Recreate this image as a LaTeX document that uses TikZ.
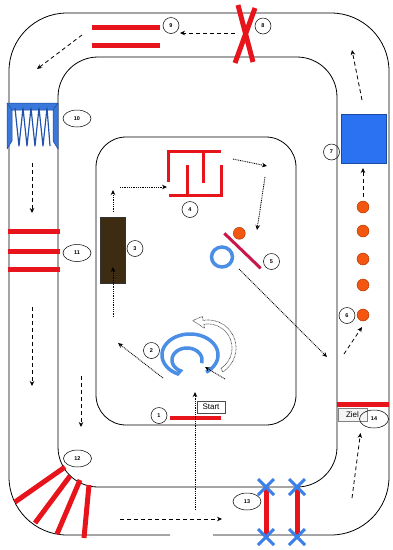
\documentclass[tikz,border=0pt]{standalone}
\usepackage{fontspec}
\setmainfont{Liberation Sans}
\usetikzlibrary{arrows.meta,shapes.geometric}
\definecolor{barred}{HTML}{E8141C}
\definecolor{crimsonbar}{HTML}{C8174A}
\definecolor{xblue}{HTML}{3B80E8}
\definecolor{spiralblue}{HTML}{4A8EE6}
\definecolor{sqblue}{HTML}{2A72F2}
\definecolor{sqedge}{HTML}{1A4AA0}
\definecolor{dotorange}{HTML}{F2560F}
\definecolor{dotedge}{HTML}{A83000}
\definecolor{brownbox}{HTML}{3D2B12}
\definecolor{frameblue}{HTML}{3A78DC}
\begin{document}
\begin{tikzpicture}[x=1pt,y=-1pt,
  track/.style={draw=black, line width=0.8pt},
  redbar/.style={draw=barred, line width=5pt},
  mazeline/.style={draw=barred, line width=3pt},
  xcross/.style={draw=xblue, line width=3pt},
  num/.style={circle, draw, line width=0.5pt, minimum size=16pt, inner sep=0pt, font=\fontsize{5.5}{6}\selectfont\bfseries},
  numell/.style={ellipse, draw, line width=0.5pt, minimum width=28pt, minimum height=17pt, inner sep=0pt, font=\fontsize{5.5}{6}\selectfont\bfseries},
  dasharrow/.style={draw, line width=0.8pt, dash pattern=on 4pt off 3pt, -{Stealth[length=5pt,width=4.5pt]}},
  dotarrow/.style={draw, line width=0.9pt, dash pattern=on 0.9pt off 0.9pt, -{Stealth[length=5pt,width=4.5pt]}},
  orangedot/.style={circle, fill=dotorange, draw=dotedge, line width=0.4pt, minimum size=12pt, inner sep=0pt},
  labelbox/.style={draw=black!70, line width=0.5pt, minimum width=28pt, minimum height=12.5pt, inner sep=0pt, font=\fontsize{8}{9}\selectfont}
]
\useasboundingbox (0,0) rectangle (392,550);

% track boundaries
\draw[track, rounded corners=58] (213,535) -- (389,535) -- (389,13) -- (9,13) -- (9,535) -- (170,535);
\draw[track, rounded corners=40] (58,57) rectangle (337,487);
\draw[track, rounded corners=30] (96,137) rectangle (296,425);

% 9: two red bars
\draw[redbar] (92,27.5) -- (160,27.5);
\draw[redbar] (92,45) -- (160,45);
\node[num] (n9) at (171,25.5) {9};

% 8: red X
\draw[redbar] (238,5) -- (253,62);
\draw[redbar] (255,8) -- (235,63);
\node[num] (n8) at (263,26) {8};

% 7: blue square
\node[draw=sqedge, fill=sqblue, line width=1pt, minimum width=45pt, minimum height=49pt, inner sep=0pt] (sq7) at (363.5,138.5) {};
\node[num] (n7) at (331.5,152) {7};

% 6: orange dots
\node[orangedot] (o1) at (363,207) {};
\node[orangedot] (o2) at (363,231) {};
\node[orangedot] (o3) at (363,259) {};
\node[orangedot] (o4) at (363,285) {};
\node[orangedot] (o5) at (363,315) {};
\node[num] (n6) at (347,315.5) {6};

% 5: ring, crimson bar, orange dot
\draw[spiralblue, line width=3.5pt] (222,257) ellipse [x radius=10.5, y radius=10];
\draw[crimsonbar, line width=3pt] (224.3,233.3) -- (260.7,268.3);
\node[orangedot] (o6) at (239.3,233.3) {};
\node[num] (n5) at (271.5,261.5) {5};

% 4: maze
\draw[mazeline] (168,182) -- (168,151) -- (221,151);
\draw[mazeline] (203,151) -- (203,183);
\draw[mazeline] (187,165) -- (187,195);
\draw[mazeline] (169,195) -- (221,195) -- (221,165);
\node[num] (n4) at (190,209.5) {4};

% 3: brown box
\node[draw=black!80, fill=brownbox, line width=0.6pt, minimum width=25pt, minimum height=66pt, inner sep=0pt] (box3) at (112.5,250) {};
\node[num] (n3) at (135,248.5) {3};

% 2: spiral and curved hollow arrow
\draw[spiralblue, line width=3.5pt] plot[domain=55:-244, samples=90] ({190+28*cos(\x)},{355+21*sin(\x)}) -- plot[domain=116:375, samples=60] ({187+15*cos(\x)},{360+12*sin(\x)});
\draw[black!75, line width=0.7pt, dash pattern=on 0.7pt off 0.7pt]
  plot[domain=58:-100, samples=40] ({208+28*cos(\x)},{348+28*sin(\x)})
  -- ({208+32*cos(-100)},{348+32*sin(-100)}) -- (192.7,320.5)
  -- ({208+20*cos(-100)},{348+20*sin(-100)})
  -- plot[domain=-100:58, samples=40] ({208+24*cos(\x)},{348+24*sin(\x)}) -- cycle;
\node[num] (n2) at (151.5,350.5) {2};

% 1: start
\draw[barred, line width=4pt] (170,418) -- (221,418);
\node[labelbox] (start) at (211,407) {Start};
\node[num] (n1) at (159,415.5) {1};

% 13: red bars with blue crosses
\draw[redbar] (266,487) -- (266,537);
\draw[redbar] (297,487) -- (297,537);
\foreach \cx/\cy in {266/487, 266/537, 297/487, 297/537}{
  \draw[xcross] (\cx-8,\cy-8) -- (\cx+8,\cy+8);
  \draw[xcross] (\cx-8,\cy+8) -- (\cx+8,\cy-8);
}
\node[numell] (n13) at (247,501.5) {13};

% 14: finish
\draw[barred, line width=4.5pt] (337,404.5) -- (389,404.5);
\node[labelbox, draw=gray, fill=gray!8, minimum width=29pt] (ziel) at (352.5,414.5) {Ziel};
\node[numell, minimum width=29pt, minimum height=18pt] (n14) at (374,419) {14};

% 12: fan of red bars
\draw[redbar] (65,467) -- (15,502);
\draw[redbar] (70,476) -- (35,523);
\draw[redbar] (80,480) -- (57,534);
\draw[redbar] (89,485) -- (84,538);
\node[numell] (n12) at (77.5,458.5) {12};

% 11: three red bars
\draw[redbar] (8,231) -- (60,231);
\draw[redbar] (8,251) -- (60,251);
\draw[redbar] (8,269) -- (60,269);
\node[numell] (n11) at (77,253) {11};

% 10: blue frame with zigzag
\draw[fill=frameblue, draw=sqedge, line width=0.5pt, line join=round]
  (7,103) -- (58,103) -- (58,149) -- (53,141) -- (53,110) -- (12,110) -- (12,141) -- (7,149) -- cycle;
\draw[sqedge, line width=0.5pt] (7,103) -- (12,110) (58,103) -- (53,110);
\draw[sqedge!80!frameblue, line width=1.2pt, line join=round]
  (15,108) -- (19,146) -- (23,108) -- (27,146) -- (31,108) -- (35,146) -- (39,108) -- (43,146) -- (47,108) -- (50,146);
\node[numell] (n10) at (77,118.5) {10};

% arrow end points
\coordinate (a1s) at (235,33);   \coordinate (a1e) at (180,33);
\coordinate (a2s) at (82,35);    \coordinate (a2e) at (37,69);
\coordinate (a3s) at (32,163);   \coordinate (a3e) at (32,213);
\coordinate (a4s) at (32,307);   \coordinate (a4e) at (32,386);
\coordinate (a5s) at (81,376);   \coordinate (a5e) at (81,427);
\coordinate (a6s) at (120,519);  \coordinate (a6e) at (222,519);
\coordinate (a7s) at (352,498);  \coordinate (a7e) at (360.5,433);
\coordinate (a8s) at (344,354);  \coordinate (a8e) at (362,327);
\coordinate (a9s) at (363,197);  \coordinate (a9e) at (363,168);
\coordinate (a10s) at (362,100); \coordinate (a10e) at (352,50);

\coordinate (d1s) at (195,510);  \coordinate (d1e) at (195,392);
\coordinate (d2s) at (163,378);  \coordinate (d2e) at (118,343);
\coordinate (d3s) at (225,379);  \coordinate (d3e) at (205,367);
\coordinate (d4s) at (113,317);  \coordinate (d4e) at (113,267);
\coordinate (d5s) at (113,212);  \coordinate (d5e) at (113,190);
\coordinate (d6s) at (120,187);  \coordinate (d6e) at (167,187);
\coordinate (d7s) at (233,159);  \coordinate (d7e) at (267,166);
\coordinate (d8s) at (265,177);  \coordinate (d8e) at (257,230);
\coordinate (d9s) at (239,269);  \coordinate (d9e) at (327,357);

% dashed arrows
\draw[dasharrow] (a1s) -- (a1e);
\draw[dasharrow] (a2s) -- (a2e);
\draw[dasharrow] (a3s) -- (a3e);
\draw[dasharrow] (a4s) -- (a4e);
\draw[dasharrow] (a5s) -- (a5e);
\draw[dasharrow] (a6s) -- (a6e);
\draw[dasharrow] (a7s) -- (a7e);
\draw[dasharrow] (a8s) -- (a8e);
\draw[dasharrow] (a9s) -- (a9e);
\draw[dasharrow] (a10s) -- (a10e);

% dotted arrows
\draw[dotarrow] (d1s) -- (d1e);
\draw[dotarrow] (d2s) -- (d2e);
\draw[dotarrow] (d3s) -- (d3e);
\draw[dotarrow] (d4s) -- (d4e);
\draw[dotarrow] (d5s) -- (d5e);
\draw[dotarrow] (d6s) -- (d6e);
\draw[dotarrow] (d7s) -- (d7e);
\draw[dotarrow] (d8s) -- (d8e);
\draw[dotarrow] (d9s) -- (d9e);
\end{tikzpicture}
\end{document}
